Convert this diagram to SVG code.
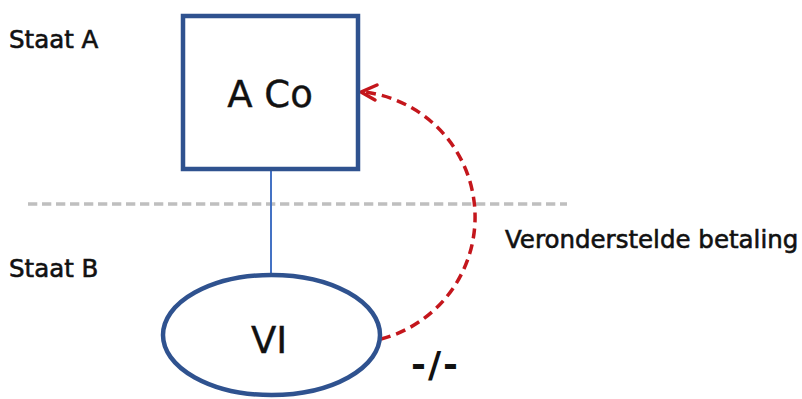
<svg xmlns="http://www.w3.org/2000/svg" width="802" height="399" viewBox="0 0 802 399">
  <style>
    .lbl { font-family: "DejaVu Sans", Verdana, sans-serif; fill: #111; }
    .side { font-size: 24.5px; stroke: #111; stroke-width: 0.6px; }
    .big { font-size: 37px; text-anchor: middle; stroke: #111; stroke-width: 0.4px; }
    .node { fill: #fff; stroke: #2f528f; stroke-width: 4.5; }
    .red { fill: none; stroke: #c4161c; stroke-width: 3.5; }
  </style>
  <rect width="802" height="399" fill="#fff"/>
  <text class="lbl side" x="9" y="48">Staat A</text>
  <text class="lbl side" x="9" y="277">Staat B</text>
  <line x1="28" y1="204" x2="567" y2="204" stroke="#bfbfbf" stroke-width="3.5" stroke-dasharray="9.3 4.7"/>
  <g id="connectors">
    <line x1="271" y1="171" x2="271" y2="273" stroke="#4472c4" stroke-width="2"/>
    <path class="red" d="M381,339 A126,126 0 0 0 364,92" stroke-dasharray="10 6"/>
    <path class="red" d="M377,85 L361,92 L375,100" stroke-linecap="round" stroke-linejoin="round"/>
  </g>
  <g id="node-aco">
    <rect class="node" x="183" y="16" width="175" height="153"/>
    <text class="lbl big" x="270" y="107">A Co</text>
  </g>
  <g id="node-vi">
    <ellipse class="node" cx="271.5" cy="335" rx="108.5" ry="60"/>
    <text class="lbl big" x="269" y="353">VI</text>
  </g>
  <text class="lbl side" x="505" y="248">Veronderstelde betaling</text>
  <text class="lbl" x="411" y="377" font-size="36" font-weight="bold" letter-spacing="2">-/-</text>
</svg>
